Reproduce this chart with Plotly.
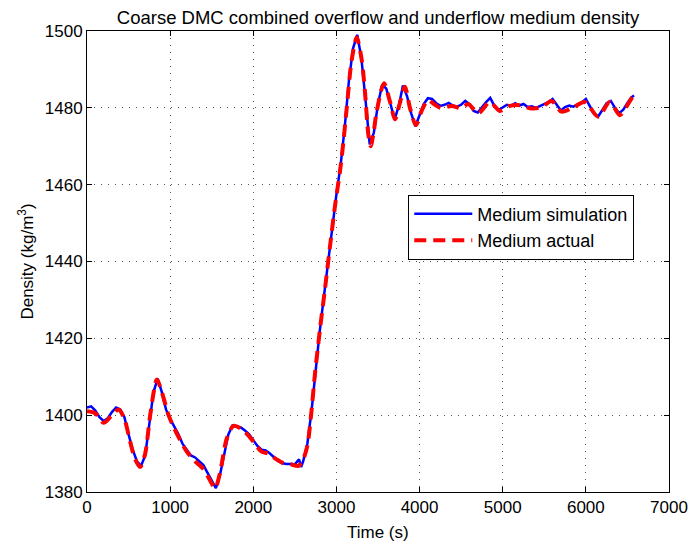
import plotly.graph_objects as go

# Measured medium density (smooth, dashed red)
actual_t = [0, 100, 200, 300, 380, 450, 520, 580, 640, 700, 760, 841, 900, 981, 1050,
            1121, 1200, 1300, 1400, 1480, 1541, 1600, 1682, 1762, 1850, 1950, 2022, 2100,
            2182, 2280, 2362, 2450, 2543, 2600, 2650, 2695, 2743, 2803, 2863, 2923, 2983,
            3043, 3083, 3124, 3184, 3244, 3304, 3344, 3384, 3412, 3450, 3484, 3572, 3644,
            3704, 3760, 3824, 3884, 3956, 4030, 4104, 4185, 4265, 4385, 4505, 4585, 4705,
            4845, 4966, 5086, 5206, 5326, 5467, 5587, 5707, 5847, 5987, 6147, 6288, 6408,
            6488, 6568, 6600]
actual_rho = [1401, 1400.5, 1398, 1400, 1401.5, 1399, 1393, 1388.5, 1386.5, 1390, 1400,
              1409.3, 1406, 1400, 1396.5, 1393.5, 1390.5, 1388, 1386, 1383, 1381, 1385,
              1394, 1397.2, 1396.5, 1394.5, 1392.5, 1390.5, 1390, 1388.5, 1387.5, 1387.2,
              1386.8, 1388.5, 1392, 1400, 1411, 1422.5, 1433, 1444, 1454.5, 1463.5, 1471,
              1480, 1492.5, 1498.3, 1492.5, 1484, 1473, 1470, 1474, 1479, 1486.4, 1481.6,
              1477, 1481, 1485.5, 1480, 1475.5, 1479.5, 1482, 1480.8, 1479.9, 1480.5,
              1479.9, 1481, 1478.6, 1481.5, 1479.2, 1480.5, 1480.7, 1479.9, 1480.1, 1481.8,
              1479, 1480.1, 1481.5, 1477.7, 1481.5, 1478.1, 1480.3, 1482.9, 1483]

# Simulated medium density (noisy, solid blue)
sim_t = [0, 50, 100, 150, 200, 250, 300, 350, 400, 450, 500, 550, 600, 650, 700, 750,
         800, 850, 900, 950, 1000, 1050, 1100, 1150, 1200, 1250, 1300, 1350, 1400, 1450,
         1500, 1550, 1600, 1650, 1700, 1750, 1800, 1850, 1900, 1950, 2000, 2050, 2100,
         2150, 2200, 2250, 2300, 2350, 2400, 2450, 2500, 2550, 2575, 2600, 2650, 2700,
         2750, 2800, 2850, 2900, 2950, 3000, 3050, 3100, 3150, 3200, 3250, 3300, 3350,
         3400, 3450, 3500, 3550, 3600, 3650, 3700, 3750, 3800, 3850, 3900, 3950, 4000,
         4050, 4100, 4150, 4200, 4250, 4300, 4350, 4400, 4450, 4500, 4550, 4600, 4650,
         4700, 4750, 4800, 4850, 4900, 4950, 5000, 5050, 5100, 5150, 5200, 5250, 5300,
         5350, 5400, 5450, 5500, 5550, 5600, 5650, 5700, 5750, 5800, 5850, 5900, 5950,
         6000, 6050, 6100, 6150, 6200, 6250, 6300, 6350, 6400, 6450, 6500, 6550, 6580]
sim_rho = [1402, 1402.3, 1401.2, 1399.5, 1398.5, 1399.2, 1400.8, 1402, 1401.5, 1399.5,
           1395, 1391, 1388, 1386.8, 1389.5, 1398, 1406, 1409.5, 1406, 1401.5, 1399,
           1397, 1395, 1392.5, 1391, 1389.5, 1389, 1388, 1387, 1385, 1383, 1381, 1384.5,
           1390, 1395, 1397.3, 1397, 1396.8, 1396, 1395, 1393.5, 1392, 1391, 1390.8, 1390,
           1389, 1388, 1387.5, 1387.3, 1387.3, 1387.2, 1388.5, 1386.5, 1388, 1392.5, 1401,
           1412, 1422, 1431, 1440, 1449, 1457.5, 1465, 1475, 1487, 1495.5, 1499, 1493,
           1482, 1470.5, 1473.5, 1481, 1486, 1485, 1481, 1477, 1480.5, 1485.8, 1483,
           1478.5, 1475.2, 1478, 1481, 1482.5, 1482.3, 1481.2, 1480.5, 1480.8, 1481.3,
           1480.6, 1480.3, 1480.8, 1481.8, 1481, 1479.2, 1478.8, 1480.3, 1481.5, 1482.6,
           1480.5, 1479.4, 1480, 1480.8, 1480.5, 1481.2, 1480.6, 1481, 1480.2, 1480.4,
           1480, 1480.5, 1480.9, 1481.5, 1482.3, 1480.8, 1479.3, 1480.2, 1480.6, 1480.3,
           1480.9, 1481.4, 1482.3, 1480.5, 1478.4, 1477.8, 1479.5, 1481.2, 1481.8, 1480,
           1478.6, 1479.5, 1481.3, 1482.8, 1483.2]

x_ticks = [0, 1000, 2000, 3000, 4000, 5000, 6000, 7000]
y_ticks = [1380, 1400, 1420, 1440, 1460, 1480, 1500]

FONT = "Liberation Sans, Arial, sans-serif"

fig = go.Figure()
fig.add_trace(go.Scatter(x=sim_t, y=sim_rho, mode="lines", name="Medium simulation",
                         line=dict(color="#0000ff", width=2.5)))
fig.add_trace(go.Scatter(x=actual_t, y=actual_rho, mode="lines", name="Medium actual",
                         line=dict(color="#ff0000", width=4, dash="12px,7px",
                                   shape="spline", smoothing=0.8)))

axis_common = dict(
    showline=True, linecolor="black", linewidth=1, mirror="ticks",
    ticks="inside", ticklen=5, tickcolor="black", tickwidth=1,
    showgrid=True, gridcolor="#555555", gridwidth=1, griddash="1px,6px",
    zeroline=False, tickfont=dict(family=FONT, size=17, color="black"),
)

fig.update_xaxes(range=[0, 7000], tickvals=x_ticks, ticktext=[str(v) for v in x_ticks],
                 automargin=False, **axis_common)
fig.update_yaxes(range=[1380, 1500], tickvals=y_ticks, ticktext=[str(v) for v in y_ticks],
                 automargin=False,
                 title=dict(text="Density (kg/m<sup>3</sup>)",
                            font=dict(family=FONT, size=17, color="black"), standoff=6),
                 **axis_common)

# x-axis caption placed just under the tick labels
fig.add_annotation(text="Time (s)", xref="paper", yref="paper", x=0.5, y=-0.087,
                   xanchor="center", yanchor="middle", showarrow=False,
                   font=dict(family=FONT, size=17, color="black"))

fig.update_layout(
    width=695, height=545,
    margin=dict(l=87, r=26, t=31, b=53),
    paper_bgcolor="white", plot_bgcolor="white",
    title=dict(text="Coarse DMC combined overflow and underflow medium density",
               x=0.5, xref="paper", xanchor="center", y=0.968, yanchor="middle",
               font=dict(family=FONT, size=18.5, color="black")),
    legend=dict(x=0.552, y=0.645, xanchor="left", yanchor="top",
                bgcolor="white", bordercolor="black", borderwidth=1,
                font=dict(family=FONT, size=18, color="black"),
                itemwidth=58, tracegroupgap=0),
    showlegend=True,
)

fig.write_html("out.html")
